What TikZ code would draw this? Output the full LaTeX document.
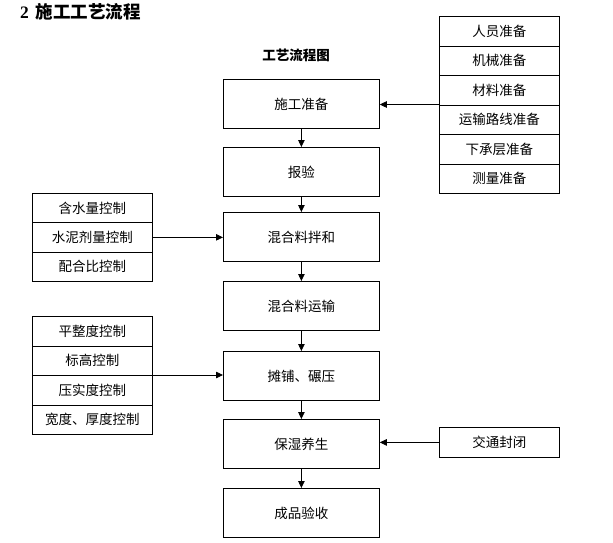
\documentclass[tikz,border=0pt]{standalone}
\usepackage{fontspec}
\setmainfont{Liberation Serif}
\newfontfamily\cjk{Noto Sans CJK SC}
\usetikzlibrary{arrows.meta}
\begin{document}
\begin{tikzpicture}[x=1pt,y=-1pt,
  box/.style={draw,line width=0.8pt,font=\cjk\fontsize{13.5}{15}\selectfont},
  arr/.style={line width=0.8pt,-{Triangle[length=7pt,width=6.5pt]}}]
\useasboundingbox (0,0) rectangle (613,542);
% title
\node[anchor=west,inner sep=0] (title) at (20,12) {\fontsize{17.5}{19}\selectfont\bfseries 2\hspace{7pt}{\cjk\bfseries 施工工艺流程}};
\node (subtitle) at (296,55) {\cjk\bfseries\fontsize{13.5}{15}\selectfont 工艺流程图};
% main column
\foreach \n/\t/\y in {m1/施工准备/79, m2/报验/147, m3/混合料拌和/212, m4/混合料运输/281, m5/摊铺、碾压/351, m6/保湿养生/419, m7/成品验收/488}{
  \node[box,minimum width=156pt,minimum height=49pt,anchor=north west] (\n) at (223,\y) {\t};
}
\foreach \a/\b in {m1/m2,m2/m3,m3/m4,m4/m5,m5/m6,m6/m7}{
  \draw[arr] (\a.south) -- (\b.north);
}
% right stack
\foreach \n/\t/\y in {r1/人员准备/16, r2/机械准备/45.5, r3/材料准备/75, r4/运输路线准备/104.5, r5/下承层准备/134, r6/测量准备/163.5}{
  \node[box,minimum width=120pt,minimum height=29.5pt,anchor=north west] (\n) at (439,\y) {\t};
}
\coordinate (rj) at (r4.north west);
\draw[arr] (rj) -- (rj -| m1.east);
% left stack 1
\foreach \n/\t/\y in {a1/含水量控制/193, a2/水泥剂量控制/222.3, a3/配合比控制/251.6}{
  \node[box,minimum width=120pt,minimum height=29.3pt,anchor=north west] (\n) at (32,\y) {\t};
}
\draw[arr] (a2.east) -- (a2.east -| m3.west);
% left stack 2
\foreach \n/\t/\y in {b1/平整度控制/316, b2/标高控制/345.5, b3/压实度控制/375, b4/宽度、厚度控制/404.5}{
  \node[box,minimum width=120pt,minimum height=29.5pt,anchor=north west] (\n) at (32,\y) {\t};
}
\coordinate (bj) at (b3.north east);
\draw[arr] (bj) -- (bj -| m5.west);
% traffic closure
\node[box,minimum width=120pt,minimum height=30pt,anchor=north west] (tc) at (439,427) {交通封闭};
\draw[arr] (tc.west) -- (tc.west -| m6.east);
\end{tikzpicture}
\end{document}
